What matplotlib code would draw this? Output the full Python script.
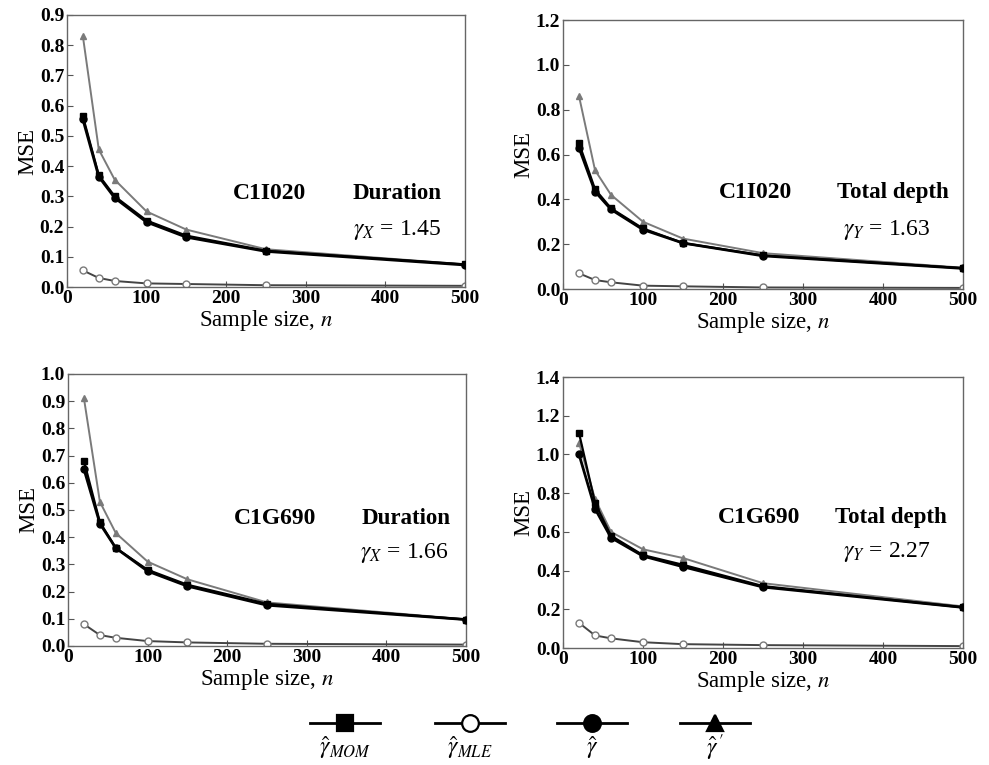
import matplotlib
matplotlib.use("Agg")
import matplotlib.pyplot as plt
from matplotlib.lines import Line2D

plt.rcParams["font.family"] = ["Liberation Serif", "DejaVu Serif"]
plt.rcParams["mathtext.fontset"] = "stix"

# sample sizes
n = [20, 40, 60, 100, 150, 250, 500]

# C1I020 duration
p1_mom = [0.565, 0.37, 0.30, 0.22, 0.17, 0.12, 0.075]
p1_mle = [0.055, 0.03, 0.02, 0.012, 0.01, 0.006, 0.004]
p1_hat = [0.555, 0.365, 0.295, 0.215, 0.165, 0.118, 0.073]
p1_prime = [0.83, 0.455, 0.355, 0.25, 0.19, 0.125, 0.075]

# C1I020 total depth
p2_mom = [0.65, 0.445, 0.36, 0.27, 0.205, 0.15, 0.093]
p2_mle = [0.07, 0.04, 0.03, 0.015, 0.012, 0.007, 0.005]
p2_hat = [0.63, 0.435, 0.355, 0.265, 0.205, 0.148, 0.092]
p2_prime = [0.86, 0.53, 0.42, 0.30, 0.225, 0.16, 0.095]

# C1G690 duration
p3_mom = [0.68, 0.455, 0.36, 0.28, 0.225, 0.155, 0.097]
p3_mle = [0.08, 0.04, 0.03, 0.018, 0.013, 0.008, 0.005]
p3_hat = [0.65, 0.45, 0.36, 0.275, 0.22, 0.15, 0.097]
p3_prime = [0.91, 0.53, 0.415, 0.31, 0.245, 0.16, 0.098]

# C1G690 total depth
p4_mom = [1.11, 0.75, 0.58, 0.48, 0.43, 0.32, 0.21]
p4_mle = [0.13, 0.065, 0.05, 0.03, 0.02, 0.015, 0.01]
p4_hat = [1.00, 0.72, 0.57, 0.475, 0.42, 0.315, 0.21]
p4_prime = [1.06, 0.77, 0.60, 0.51, 0.465, 0.335, 0.215]

station = ["C1I020", "C1I020", "C1G690", "C1G690"]
variable = ["Duration", "Total depth", "Duration", "Total depth"]
gamma_txt = [r"$\gamma_X$ = 1.45", r"$\gamma_Y$ = 1.63",
             r"$\gamma_X$ = 1.66", r"$\gamma_Y$ = 2.27"]
ymax = [0.9, 1.2, 1.0, 1.4]
ystep = [0.1, 0.2, 0.1, 0.2]

GREY = "#7a7a7a"
styles = {
    "prime": dict(color=GREY, lw=1.4, marker="^", ms=5, mfc=GREY, mec=GREY),
    "mle": dict(color="#444444", lw=1.4, marker="o", ms=5, mfc="white", mec=GREY),
    "mom": dict(color="black", lw=1.6, marker="s", ms=5, mfc="black", mec="black"),
    "hat": dict(color="black", lw=2.0, marker="o", ms=5, mfc="black", mec="black"),
}

fig = plt.figure(figsize=(9.89, 7.65), dpi=100)
rects = [
    [0.0677, 0.6248, 0.4024, 0.3556],
    [0.5693, 0.6222, 0.4044, 0.3516],
    [0.0688, 0.1556, 0.4024, 0.3556],
    [0.5693, 0.1529, 0.4044, 0.3542],
]
text_pos = [  # (station x, variable x, label y, gamma x, gamma y) in axes fraction
    (0.51, 0.83, 0.345, 0.83, 0.21),
    (0.48, 0.825, 0.357, 0.81, 0.22),
    (0.52, 0.85, 0.47, 0.845, 0.34),
    (0.49, 0.82, 0.48, 0.81, 0.354),
]
data = [
    (p1_mom, p1_mle, p1_hat, p1_prime),
    (p2_mom, p2_mle, p2_hat, p2_prime),
    (p3_mom, p3_mle, p3_hat, p3_prime),
    (p4_mom, p4_mle, p4_hat, p4_prime),
]

for i, (mom, mle, hat, prime) in enumerate(data):
    ax = fig.add_axes(rects[i])
    ax.plot(n, prime, **styles["prime"], zorder=2)
    ax.plot(n, mle, **styles["mle"], zorder=2)
    ax.plot(n, mom, **styles["mom"], zorder=3)
    ax.plot(n, hat, **styles["hat"], zorder=3)
    ax.set_xlim(0, 500)
    ax.set_ylim(0, ymax[i])
    ax.set_xticks(range(0, 501, 100))
    nt = int(round(ymax[i] / ystep[i]))
    ax.set_yticks([k * ystep[i] for k in range(nt + 1)])
    ax.yaxis.set_major_formatter(plt.FormatStrFormatter("%.1f"))
    ax.tick_params(direction="in", length=4, width=0.8, color="#555555",
                   labelsize=14, pad=2)
    for lab in ax.get_xticklabels() + ax.get_yticklabels():
        lab.set_fontweight("bold")
    for sp in ax.spines.values():
        sp.set_color("#666666")
        sp.set_linewidth(1.0)
    ax.set_ylabel("MSE", fontsize=16.5, labelpad=1)
    ax.set_xlabel(r"Sample size, $\it{n}$", fontsize=16.5, labelpad=1)
    sx, vx, ly, gx, gy = text_pos[i]
    ax.text(sx, ly, station[i], transform=ax.transAxes, ha="center", va="center",
            fontsize=17, fontweight="bold")
    ax.text(vx, ly, variable[i], transform=ax.transAxes, ha="center", va="center",
            fontsize=16.5, fontweight="bold")
    ax.text(gx, gy, gamma_txt[i], transform=ax.transAxes, ha="center", va="center",
            fontsize=17)

# legend: marker on a short line with the label underneath
leg_labels = [r"$\hat{\gamma}_{MOM}$", r"$\hat{\gamma}_{MLE}$",
              r"$\hat{\gamma}$", r"$\hat{\gamma}^{\,\prime}$"]
leg_markers = ["s", "o", "o", "^"]
leg_fill = ["black", "white", "black", "black"]
lax = fig.add_axes([0, 0, 1, 0.08])
lax.set_xlim(0, 989)
lax.set_ylim(0, 61)
lax.axis("off")
centers = [345, 470, 592, 715]
for cx, mk, fc, lab in zip(centers, leg_markers, leg_fill, leg_labels):
    lax.add_line(Line2D([cx - 35, cx, cx + 35], [42, 42, 42], color="black", lw=2,
                        marker=mk, markevery=[1], ms=12, mfc=fc, mec="black", mew=1.6))
    lax.text(cx, 17, lab, ha="center", va="center", fontsize=17)

fig.savefig("out.png", dpi=100)
